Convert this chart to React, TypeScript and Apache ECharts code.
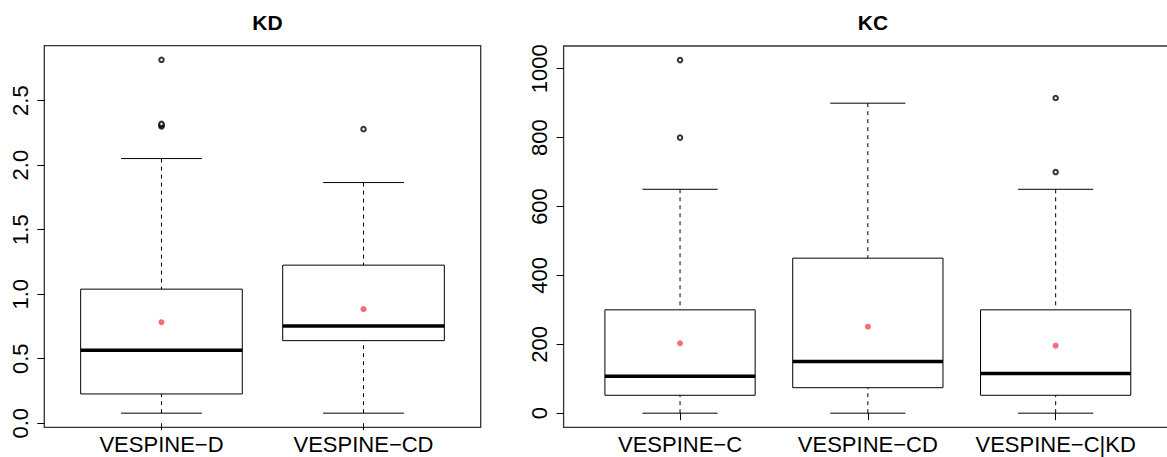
import React, { useEffect, useRef } from "react";
import * as echarts from "echarts";

// ---- Data: KD panel ----
const kdCategories = ["VESPINE\u2212D", "VESPINE\u2212CD"];
const kdLow = [0.078, 0.078];
const kdQ1 = [0.227, 0.64];
const kdMedian = [0.566, 0.754];
const kdQ3 = [1.039, 1.225];
const kdHigh = [2.051, 1.865];
const kdMean = [0.783, 0.884];
const kdOutliers = [
  [2.816, 2.3, 2.31, 2.32],
  [2.279],
];
const kdTicks = [0, 0.5, 1, 1.5, 2, 2.5];

// ---- Data: KC panel ----
const kcCategories = ["VESPINE\u2212C", "VESPINE\u2212CD", "VESPINE\u2212C|KD"];
const kcLow = [0, 0, 0];
const kcQ1 = [52, 74, 52];
const kcMedian = [107, 150, 115];
const kcQ3 = [300, 450, 300];
const kcHigh = [650, 900, 650];
const kcMean = [203, 251, 196];
const kcOutliers = [[1025, 800], [], [915, 700]];
const kcTicks = [0, 200, 400, 600, 800, 1000];

const FONT = "'Liberation Sans', Arial, Helvetica, sans-serif";
const BOX_WIDTH = 0.8;
const MEAN_COLOR = "#f24a52";

function boxRows(low: number[], q1: number[], med: number[], q3: number[], high: number[]) {
  return low.map((_, i) => [i + 1, low[i], q1[i], med[i], q3[i], high[i]]);
}

function outlierPoints(out: number[][]) {
  const pts: number[][] = [];
  out.forEach((vals, i) => vals.forEach((v) => pts.push([i + 1, v])));
  return pts;
}

function extent(...lists: number[][]) {
  const all = lists.flat();
  const mn = Math.min(...all);
  const mx = Math.max(...all);
  const pad = (mx - mn) * 0.04;
  return [mn - pad, mx + pad];
}

function renderBox(_params: any, api: any) {
  const x = api.value(0);
  const pLow = api.coord([x, api.value(1)]);
  const pQ1 = api.coord([x, api.value(2)]);
  const pMed = api.coord([x, api.value(3)]);
  const pQ3 = api.coord([x, api.value(4)]);
  const pHigh = api.coord([x, api.value(5)]);
  const boxW = api.size([BOX_WIDTH, 0])[0];
  const cx = pMed[0];
  const hw = boxW / 2;
  const cw = boxW / 4;
  const dashed = { stroke: "#000", lineWidth: 1, lineDash: [4, 4] };
  const solid = { stroke: "#000", lineWidth: 1 };
  return {
    type: "group",
    children: [
      { type: "line", shape: { x1: cx, y1: pHigh[1], x2: cx, y2: pQ3[1] }, style: dashed },
      { type: "line", shape: { x1: cx, y1: pLow[1], x2: cx, y2: pQ1[1] }, style: dashed },
      { type: "line", shape: { x1: cx - cw, y1: pHigh[1], x2: cx + cw, y2: pHigh[1] }, style: solid },
      { type: "line", shape: { x1: cx - cw, y1: pLow[1], x2: cx + cw, y2: pLow[1] }, style: solid },
      {
        type: "rect",
        shape: { x: cx - hw, y: pQ3[1], width: boxW, height: pQ1[1] - pQ3[1] },
        style: { fill: "#fff", stroke: "#000", lineWidth: 1 },
      },
      { type: "line", shape: { x1: cx - hw, y1: pMed[1], x2: cx + hw, y2: pMed[1] }, style: { stroke: "#000", lineWidth: 3.5 } },
    ],
  };
}

export default function App() {
  const ref = useRef<HTMLDivElement>(null);
  useEffect(() => {
    if (!ref.current) return;
    const chart = echarts.init(ref.current, null, { renderer: "svg" });
    const kdExt = extent(kdLow, kdHigh, ...kdOutliers);
    const kcExt = extent(kcLow, kcHigh, ...kcOutliers);
    const nKd = kdCategories.length;
    const nKc = kcCategories.length;
    const xPad = (n: number) => n * 0.04;

    const yAxisCommon = (ticks: number[], fmt: (v: number) => string) => ({
      type: "value",
      axisLine: { show: false },
      splitLine: { show: false },
      axisTick: { show: true, customValues: ticks, length: 7, lineStyle: { color: "#000", width: 1 } },
      axisLabel: {
        show: true,
        customValues: ticks,
        formatter: fmt,
        rotate: 90,
        fontSize: 22,
        fontFamily: FONT,
        color: "#000",
        margin: 13,
      },
    });
    const xAxisCommon = (cats: string[]) => ({
      type: "value",
      axisLine: { show: false },
      splitLine: { show: false },
      axisTick: { show: true, customValues: cats.map((_, i) => i + 1), length: 7, lineStyle: { color: "#000", width: 1 } },
      axisLabel: {
        show: true,
        customValues: cats.map((_, i) => i + 1),
        formatter: (v: number) => cats[Math.round(v) - 1] ?? "",
        fontSize: 22,
        fontFamily: FONT,
        color: "#000",
        margin: 6,
      },
    });

    chart.setOption({
      animation: false,
      backgroundColor: "#fff",
      title: [
        { text: "KD", left: 262.5, top: 7, textAlign: "center", textStyle: { fontSize: 21, fontWeight: "bold", fontFamily: FONT, color: "#000" } },
        { text: "KC", left: 868, top: 7, textAlign: "center", textStyle: { fontSize: 21, fontWeight: "bold", fontFamily: FONT, color: "#000" } },
      ],
      grid: [
        { left: 44.3, top: 45.7, width: 436.4, height: 381.6, show: true, borderColor: "#333", borderWidth: 1.3, backgroundColor: "transparent", outerBoundsMode: "none", containLabel: false },
        { left: 563.6, top: 46, width: 608.5, height: 381.3, show: true, borderColor: "#333", borderWidth: 1.3, backgroundColor: "transparent", outerBoundsMode: "none", containLabel: false },
      ],
      xAxis: [
        { ...xAxisCommon(kdCategories), gridIndex: 0, min: 0.5 - xPad(nKd), max: nKd + 0.5 + xPad(nKd) },
        { ...xAxisCommon(kcCategories), gridIndex: 1, min: 0.5 - xPad(nKc), max: nKc + 0.5 + xPad(nKc) },
      ],
      yAxis: [
        { ...yAxisCommon(kdTicks, (v: number) => v.toFixed(1)), gridIndex: 0, min: kdExt[0], max: kdExt[1] },
        { ...yAxisCommon(kcTicks, (v: number) => String(Math.round(v))), gridIndex: 1, min: kcExt[0], max: kcExt[1] },
      ],
      series: [
        {
          type: "custom",
          xAxisIndex: 0,
          yAxisIndex: 0,
          renderItem: renderBox,
          encode: { x: 0, y: [1, 2, 3, 4, 5] },
          data: boxRows(kdLow, kdQ1, kdMedian, kdQ3, kdHigh),
          clip: false,
        },
        {
          type: "custom",
          xAxisIndex: 1,
          yAxisIndex: 1,
          renderItem: renderBox,
          encode: { x: 0, y: [1, 2, 3, 4, 5] },
          data: boxRows(kcLow, kcQ1, kcMedian, kcQ3, kcHigh),
          clip: false,
        },
        {
          type: "scatter",
          xAxisIndex: 0,
          yAxisIndex: 0,
          symbol: "emptyCircle",
          symbolSize: 4.5,
          itemStyle: { color: "#000", borderWidth: 0.7 },
          data: outlierPoints(kdOutliers),
          z: 5,
        },
        {
          type: "scatter",
          xAxisIndex: 1,
          yAxisIndex: 1,
          symbol: "emptyCircle",
          symbolSize: 4.5,
          itemStyle: { color: "#000", borderWidth: 0.7 },
          data: outlierPoints(kcOutliers),
          z: 5,
        },
        {
          type: "scatter",
          xAxisIndex: 0,
          yAxisIndex: 0,
          symbol: "circle",
          symbolSize: 6,
          itemStyle: { color: MEAN_COLOR },
          data: kdMean.map((m, i) => [i + 1, m]),
          z: 6,
        },
        {
          type: "scatter",
          xAxisIndex: 1,
          yAxisIndex: 1,
          symbol: "circle",
          symbolSize: 6,
          itemStyle: { color: MEAN_COLOR },
          data: kcMean.map((m, i) => [i + 1, m]),
          z: 6,
        },
      ],
    });
    return () => chart.dispose();
  }, []);
  return (
    <div
      ref={ref}
      style={{ position: "fixed", left: 0, top: 0, width: 1167, height: 457 }}
    />
  );
}
